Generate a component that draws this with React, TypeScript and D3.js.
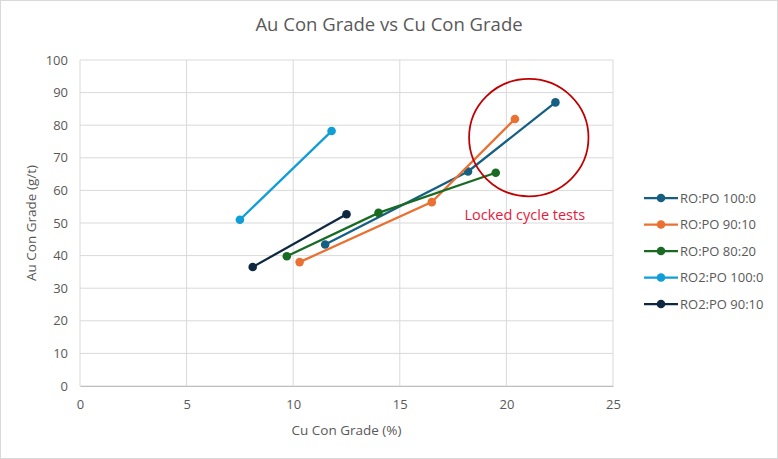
import React, { useEffect, useRef } from 'react';
import * as d3 from 'd3';

// Series names and colours
const seriesNames = ['RO:PO 100:0', 'RO:PO 90:10', 'RO:PO 80:20', 'RO2:PO 100:0', 'RO2:PO 90:10'];
const seriesColors = ['#156082', '#E97132', '#196B24', '#0F9ED5', '#0E2841'];

// Cu Con Grade (%) values per series
const cuRO100 = [11.5, 18.2, 22.3];
const cuRO90 = [10.3, 16.5, 20.4];
const cuRO80 = [9.7, 14.0, 19.5];
const cuRO2100 = [7.5, 11.8];
const cuRO290 = [8.1, 12.5];

// Au Con Grade (g/t) values per series
const auRO100 = [43.4, 65.8, 87.0];
const auRO90 = [38.0, 56.4, 81.9];
const auRO80 = [39.8, 53.1, 65.4];
const auRO2100 = [51.0, 78.2];
const auRO290 = [36.5, 52.7];

const xTicks = [0, 5, 10, 15, 20, 25];
const yTicks = [0, 10, 20, 30, 40, 50, 60, 70, 80, 90, 100];

// annotation (data coordinates)
const annotationLabel = 'Locked cycle tests';
const circleCenter = { x: 21.05, y: 76.2 };
const circleRadiusX = 2.8; // in % units
const circleRadiusY = 18; // in g/t units

const cuValues = [cuRO100, cuRO90, cuRO80, cuRO2100, cuRO290];
const auValues = [auRO100, auRO90, auRO80, auRO2100, auRO290];

const App: React.FC = () => {
  const svgRef = useRef<SVGSVGElement>(null);

  useEffect(() => {
    const svg = d3.select(svgRef.current);
    svg.selectAll('*').remove();

    const W = 778;
    const H = 459;
    const margin = { top: 60, right: 165, bottom: 73, left: 80 };
    const width = W - margin.left - margin.right;
    const height = H - margin.top - margin.bottom;
    const font = '"Open Sans", "Liberation Sans", sans-serif';
    const textGray = '#595959';

    svg.attr('width', W).attr('height', H);

    // chart background + border
    svg.append('rect')
      .attr('x', 0.5).attr('y', 0.5)
      .attr('width', W - 1).attr('height', H - 1)
      .attr('fill', '#fff')
      .attr('stroke', '#d9d9d9');

    const x = d3.scaleLinear().domain([0, 25]).range([0, width]);
    const y = d3.scaleLinear().domain([0, 100]).range([height, 0]);

    const g = svg.append('g').attr('transform', `translate(${margin.left},${margin.top})`);

    // gridlines
    g.append('g')
      .selectAll('line')
      .data(yTicks)
      .enter()
      .append('line')
      .attr('x1', 0).attr('x2', width)
      .attr('y1', d => y(d)).attr('y2', d => y(d))
      .attr('stroke', '#d9d9d9').attr('stroke-width', 1);

    g.append('g')
      .selectAll('line')
      .data(xTicks)
      .enter()
      .append('line')
      .attr('y1', 0).attr('y2', height)
      .attr('x1', d => x(d)).attr('x2', d => x(d))
      .attr('stroke', '#d9d9d9').attr('stroke-width', 1);

    // axes labels
    const xAxis = g.append('g')
      .attr('transform', `translate(0,${height})`)
      .call(d3.axisBottom(x).tickValues(xTicks).tickSize(0).tickPadding(14));
    xAxis.select('.domain').attr('stroke', '#bfbfbf');
    xAxis.selectAll('text')
      .style('font-family', font).style('font-size', '13px').attr('fill', textGray);

    const yAxis = g.append('g')
      .call(d3.axisLeft(y).tickValues(yTicks).tickSize(0).tickPadding(12));
    yAxis.select('.domain').remove();
    yAxis.selectAll('text')
      .style('font-family', font).style('font-size', '13px').attr('fill', textGray);

    // title
    svg.append('text')
      .attr('x', 389).attr('y', 31)
      .attr('text-anchor', 'middle')
      .style('font-family', font).style('font-size', '18.5px')
      .attr('fill', textGray)
      .text('Au Con Grade vs Cu Con Grade');

    // axis titles
    svg.append('text')
      .attr('x', margin.left + width / 2).attr('y', 435)
      .attr('text-anchor', 'middle')
      .style('font-family', font).style('font-size', '13.5px')
      .attr('fill', textGray)
      .text('Cu Con Grade (%)');

    svg.append('text')
      .attr('transform', `translate(36,${margin.top + height / 2}) rotate(-90)`)
      .attr('text-anchor', 'middle')
      .style('font-family', font).style('font-size', '13.5px')
      .attr('fill', textGray)
      .text('Au Con Grade (g/t)');

    // series
    const line = d3.line<[number, number]>()
      .x(d => x(d[0]))
      .y(d => y(d[1]));

    seriesNames.forEach((name, i) => {
      const pts: [number, number][] = cuValues[i].map((c, j) => [c, auValues[i][j]]);
      const sg = g.append('g').attr('class', 'series');
      sg.append('path')
        .datum(pts)
        .attr('d', line)
        .attr('fill', 'none')
        .attr('stroke', seriesColors[i])
        .attr('stroke-width', 2.25);
      sg.selectAll('circle')
        .data(pts)
        .enter()
        .append('circle')
        .attr('cx', d => x(d[0]))
        .attr('cy', d => y(d[1]))
        .attr('r', 4.3)
        .attr('fill', seriesColors[i]);
    });

    // annotation circle + label
    g.append('ellipse')
      .attr('cx', x(circleCenter.x))
      .attr('cy', y(circleCenter.y))
      .attr('rx', x(circleRadiusX) - x(0))
      .attr('ry', y(0) - y(circleRadiusY))
      .attr('fill', 'none')
      .attr('stroke', '#C00000')
      .attr('stroke-width', 1.75);

    g.append('text')
      .attr('x', x(circleCenter.x) - 4)
      .attr('y', y(circleCenter.y) + 82)
      .attr('text-anchor', 'middle')
      .style('font-family', font).style('font-size', '14.5px')
      .attr('fill', '#E8193C')
      .text(annotationLabel);

    // legend
    const legend = svg.append('g').attr('transform', 'translate(644,198)');
    seriesNames.forEach((name, i) => {
      const li = legend.append('g').attr('transform', `translate(0,${i * 26.5})`);
      li.append('line')
        .attr('x1', 0).attr('x2', 34)
        .attr('y1', 0).attr('y2', 0)
        .attr('stroke', seriesColors[i]).attr('stroke-width', 2.25);
      li.append('circle')
        .attr('cx', 17).attr('cy', 0).attr('r', 4.3)
        .attr('fill', seriesColors[i]);
      li.append('text')
        .attr('x', 36).attr('y', 0).attr('dy', '0.35em')
        .style('font-family', font).style('font-size', '13px')
        .attr('fill', textGray)
        .text(name);
    });
  }, []);

  return (
    <svg ref={svgRef} style={{ position: 'absolute', top: 0, left: 0 }}></svg>
  );
};

export default App;
